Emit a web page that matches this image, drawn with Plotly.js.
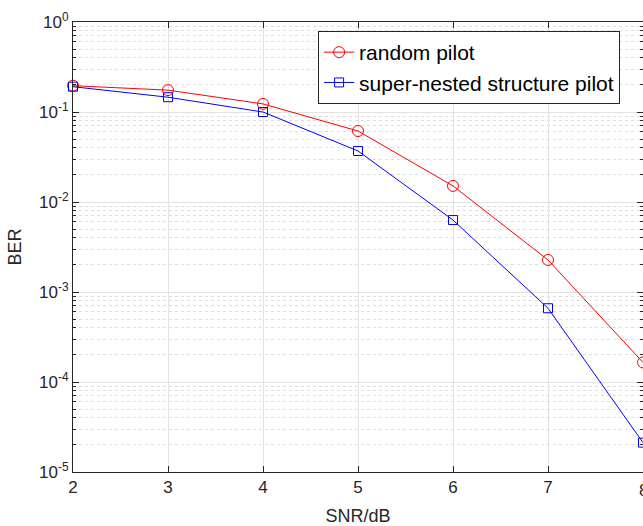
<!DOCTYPE html>
<html>
<head>
<meta charset="utf-8">
<script src="https://cdn.plot.ly/plotly-3.0.1.min.js"></script>
<style>html,body{margin:0;padding:0;background:#fff;}</style>
</head>
<body>
<div id="chart" style="width:643px;height:526px;"></div>
<script>
// SNR points (dB)
const snr = [2, 3, 4, 5, 6, 7, 8];
// Bit error rate, random pilot placement
const berRandom = [0.196, 0.175, 0.123, 0.0615, 0.0151, 0.00227, 0.000165];
// Bit error rate, super-nested structure pilot placement
const berNested = [0.191, 0.146, 0.100, 0.0369, 0.0063, 0.00066, 0.0000212];
// Decade tick positions and labels
const yTickVals = [1e-5, 1e-4, 1e-3, 1e-2, 1e-1, 1];
const yTickText = ['10<sup>-5</sup>', '10<sup>-4</sup>', '10<sup>-3</sup>', '10<sup>-2</sup>', '10<sup>-1</sup>', '10<sup>0</sup>'];
// Tick labels for the SNR axis
const xTickText = ['2', '3', '4', '5', '6', '7', '8'];

const font = 'Liberation Sans, Arial, Helvetica, sans-serif';
const axisColor = '#262626';

const traces = [
  {
    x: snr, y: berRandom, name: 'random pilot',
    type: 'scatter', mode: 'lines+markers',
    line: {color: '#ff0000', width: 1},
    marker: {symbol: 'circle-open', size: 11, color: '#ff0000', line: {width: 1}},
    cliponaxis: false
  },
  {
    x: snr, y: berNested, name: 'super-nested structure pilot',
    type: 'scatter', mode: 'lines+markers',
    line: {color: '#0000ff', width: 1},
    marker: {symbol: 'square-open', size: 9, color: '#0000ff', line: {width: 1}},
    cliponaxis: false
  }
];

// The last SNR label sits on the right edge of the page; draw it as an
// annotation so it is not dropped for overflowing.
const lastIdx = snr.length - 1;
const annotations = [{
  x: snr[lastIdx], y: 0, xref: 'x', yref: 'paper',
  text: xTickText[lastIdx], showarrow: false,
  xanchor: 'center', yanchor: 'top', yshift: -7,
  font: {family: font, size: 17, color: axisColor}
}];

const layout = {
  width: 643, height: 526,
  margin: {l: 73, r: 0, t: 22, b: 54},
  paper_bgcolor: '#fff', plot_bgcolor: '#fff',
  font: {family: font, color: axisColor, size: 17},
  showlegend: true,
  legend: {
    x: 0.43, y: 0.98, xanchor: 'left', yanchor: 'top',
    bgcolor: '#fff', bordercolor: axisColor, borderwidth: 1,
    font: {family: font, size: 21, color: '#000'},
    tracegroupgap: 0
  },
  annotations: annotations,
  xaxis: {
    range: [2, 8],
    tickvals: snr.slice(0, lastIdx), ticktext: xTickText.slice(0, lastIdx),
    ticks: 'inside', ticklen: 6, tickcolor: axisColor,
    showline: true, linecolor: axisColor, linewidth: 1, mirror: 'ticks',
    showgrid: true, gridcolor: '#e3e3e3', gridwidth: 1,
    zeroline: false,
    tickfont: {size: 17, color: axisColor},
    title: {text: 'SNR/dB', font: {size: 18, color: axisColor}, standoff: 14}
  },
  yaxis: {
    type: 'log',
    range: [-5, 0],
    tickvals: yTickVals, ticktext: yTickText,
    ticks: 'inside', ticklen: 6, tickcolor: axisColor,
    showline: true, linecolor: axisColor, linewidth: 1, mirror: 'ticks',
    showgrid: true, gridcolor: '#e3e3e3', gridwidth: 1,
    zeroline: false,
    tickfont: {size: 17, color: axisColor},
    minor: {
      dtick: 'D1', ticks: 'inside', ticklen: 3, tickcolor: axisColor,
      showgrid: true, gridcolor: '#dedede', griddash: 'dot', gridwidth: 1
    },
    title: {text: 'BER', font: {size: 18, color: axisColor}, standoff: 12}
  }
};

Plotly.newPlot('chart', traces, layout, {displayModeBar: false, staticPlot: true});
</script>
</body>
</html>
